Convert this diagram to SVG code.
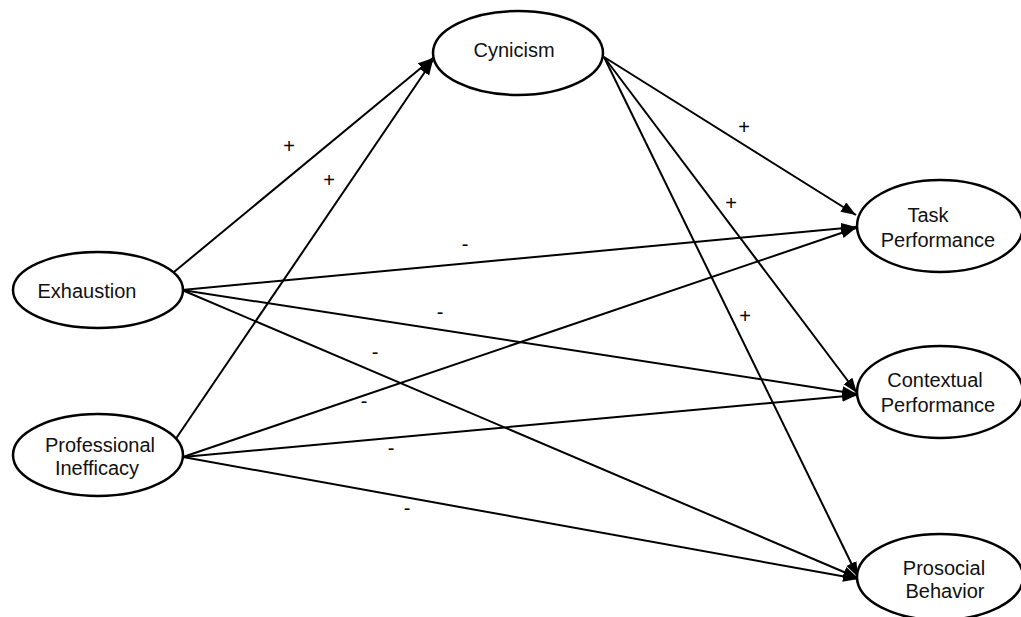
<svg xmlns="http://www.w3.org/2000/svg" width="1021" height="617" viewBox="0 0 1021 617">
<style>
.node ellipse{fill:#fff;stroke:#000;stroke-width:2.5}
.node text{font-family:"Liberation Sans",Arial,sans-serif;font-size:20px;fill:#111;text-anchor:middle}
.edges line{stroke:#000;stroke-width:2;marker-end:url(#arr)}
.lbl{font-family:"Liberation Sans",Arial,sans-serif;font-size:20px;fill:#000;text-anchor:middle}
</style>
<defs>
<marker id="arr" markerUnits="userSpaceOnUse" markerWidth="18" markerHeight="12" refX="15" refY="5.5" orient="auto">
<path d="M0,0 L15,5.5 L0,11 z" fill="#000"/>
</marker>
</defs>
<rect width="1021" height="617" fill="#fff"/>
<g class="edges" id="connectors">
<line x1="174" y1="272" x2="433" y2="58"/>
<line x1="175" y1="440" x2="433" y2="60"/>
<line x1="604" y1="57" x2="856" y2="215"/>
<line x1="604" y1="57" x2="857" y2="393"/>
<line x1="604" y1="57" x2="858" y2="577"/>
<line x1="182" y1="290" x2="856" y2="227"/>
<line x1="182" y1="290" x2="857" y2="394"/>
<line x1="182" y1="290" x2="858" y2="578"/>
<line x1="183" y1="457" x2="856" y2="228"/>
<line x1="183" y1="457" x2="857" y2="395"/>
<line x1="183" y1="457" x2="858" y2="579"/>
</g>
<g id="labels">
<text class="lbl" x="289" y="153">+</text>
<text class="lbl" x="329" y="187">+</text>
<text class="lbl" x="744" y="134">+</text>
<text class="lbl" x="731" y="210">+</text>
<text class="lbl" x="745" y="323">+</text>
<text class="lbl" x="465" y="251">-</text>
<text class="lbl" x="440" y="319">-</text>
<text class="lbl" x="375" y="359">-</text>
<text class="lbl" x="364" y="408">-</text>
<text class="lbl" x="391" y="455">-</text>
<text class="lbl" x="407" y="515">-</text>
</g>
<g class="node" id="cynicism">
<ellipse cx="518" cy="53" rx="85" ry="42"/>
<text x="514" y="57">Cynicism</text>
</g>
<g class="node" id="exhaustion">
<ellipse cx="98" cy="290" rx="85" ry="38"/>
<text x="87" y="298">Exhaustion</text>
</g>
<g class="node" id="professional-inefficacy">
<ellipse cx="98" cy="455" rx="85" ry="41"/>
<text x="100" y="452">Professional</text>
<text x="97" y="475">Inefficacy</text>
</g>
<g class="node" id="task-performance">
<ellipse cx="940" cy="226" rx="83" ry="46"/>
<text x="928" y="222">Task</text>
<text x="938" y="247">Performance</text>
</g>
<g class="node" id="contextual-performance">
<ellipse cx="940" cy="392" rx="83" ry="46"/>
<text x="935" y="387">Contextual</text>
<text x="938" y="412">Performance</text>
</g>
<g class="node" id="prosocial-behavior">
<ellipse cx="940" cy="577" rx="83" ry="43"/>
<text x="944" y="575">Prosocial</text>
<text x="945" y="598">Behavior</text>
</g>
</svg>
